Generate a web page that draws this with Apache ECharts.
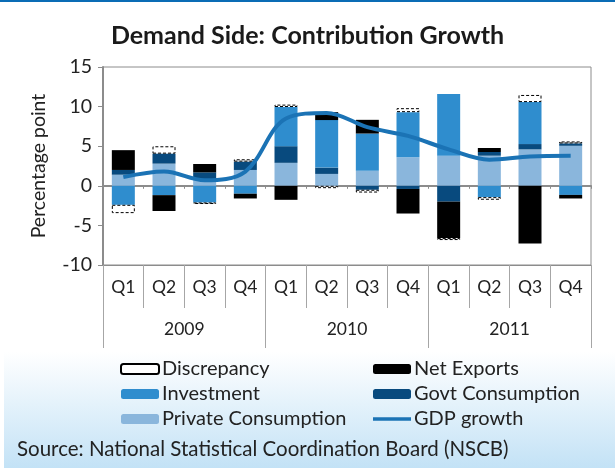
<!DOCTYPE html>
<html>
<head>
<meta charset="utf-8">
<script src="https://cdn.jsdelivr.net/npm/echarts@6/dist/echarts.min.js"></script>
<style>
  html, body { margin: 0; padding: 0; background: #fff; }
  #chart { width: 615px; height: 468px; }
</style>
</head>
<body>
<div id="chart"></div>
<script>
// quarters and years on the two level category axis
var quarters = ['Q1', 'Q2', 'Q3', 'Q4', 'Q1', 'Q2', 'Q3', 'Q4', 'Q1', 'Q2', 'Q3', 'Q4'];
var years = ['2009', '2010', '2011'];
var yTicks = [-10, -5, 0, 5, 10, 15];

// contributions, percentage points
var privateCons = [1.4, 2.8, 0.8, 2.0, 2.9, 1.5, 1.9, 3.6, 3.8, 3.8, 4.6, 5.05];
var govtCons = [0.6, 1.26, 0.9, 1.05, 2.1, 0.8, -0.5, -0.4, -2.0, 0.47, 0.67, 0.3];
var investment = [-2.4, -1.18, -2.1, -1.0, 4.95, 6.0, 4.7, 5.7, 7.8, -1.43, 5.3, -1.15];
var netExports = [2.5, -2.0, 1.05, -0.6, -1.77, 1.0, 1.73, -3.1, -4.6, 0.5, -7.3, -0.45];
var discrepancy = [-1.05, 0.93, -0.2, 0.3, 0.3, -0.3, -0.35, 0.5, -0.25, -0.33, 0.9, 0.25];
var gdpGrowth = [1.1, 1.8, 0.7, 1.8, 8.5, 9.2, 7.4, 6.3, 4.6, 3.3, 3.7, 3.8];

var chart = echarts.init(document.getElementById('chart'));
var font = 'Lato';
var axisGray = '#8c8c8c';
var lineIcon = 'path://M0,0 L0,0 M0,3.2 L38,3.2 L38,6.8 L0,6.8 Z M38,10 L38,10';

function barSeries(name, data, color, extra) {
  var s = {
    name: name,
    type: 'bar',
    stack: 'contrib',
    data: data,
    barWidth: 23,
    itemStyle: { color: color },
    emphasis: { disabled: true }
  };
  if (extra) s.itemStyle = extra;
  return s;
}

var legendText = { fontFamily: font, fontSize: 20, color: '#222', padding: [0, 0, 0, -2] };

var option = {
  backgroundColor: '#ffffff',
  animation: false,
  graphic: [
    {
      type: 'rect', z: -10,
      shape: { x: 4, y: 352, width: 611, height: 116 },
      style: {
        fill: {
          type: 'linear', x: 0, y: 0, x2: 0, y2: 1,
          colorStops: [{ offset: 0, color: '#ffffff' }, { offset: 1, color: '#c3e2f6' }]
        }
      }
    },
    { type: 'rect', z: 10, shape: { x: 0, y: 0, width: 615, height: 2 }, style: { fill: '#0a6cb5' } },
    {
      type: 'text', left: 17, top: 439,
      style: { text: 'Source: National Statistical Coordination Board (NSCB)', fontFamily: font, fontSize: 20.5, fill: '#222' }
    }
  ],
  title: {
    text: 'Demand Side: Contribution Growth',
    left: 'center',
    top: 18,
    textStyle: { fontFamily: font, fontSize: 25, fontWeight: 'bold', color: '#1a1a1a' }
  },
  legend: [
    {
      orient: 'vertical', left: 115, top: 354, itemWidth: 38, itemHeight: 10, itemGap: 5,
      textStyle: legendText,
      data: ['Discrepancy', 'Investment', 'Private Consumption']
    },
    {
      orient: 'vertical', left: 368, top: 354, itemWidth: 38, itemHeight: 10, itemGap: 5,
      textStyle: legendText,
      data: ['Net Exports', 'Govt Consumption', { name: 'GDP growth', icon: lineIcon }]
    }
  ],
  grid: {
    left: 103, right: 24, top: 67, bottom: 203,
    show: true, borderColor: axisGray, borderWidth: 1, backgroundColor: 'transparent'
  },
  xAxis: [
    {
      type: 'category', data: quarters, position: 'bottom',
      axisLine: { onZero: true, lineStyle: { color: axisGray, width: 2 } },
      axisTick: { show: true, interval: 0, length: 3, lineStyle: { color: axisGray } },
      axisLabel: { show: false }
    },
    {
      type: 'category', data: quarters, position: 'bottom',
      axisLine: { show: true, onZero: false, lineStyle: { color: axisGray, width: 1 } },
      axisTick: { show: true, interval: 0, length: 43, lineStyle: { color: '#a6a6a6' } },
      axisLabel: { interval: 0, margin: 13, fontFamily: font, fontSize: 17.5, color: '#222' }
    },
    {
      type: 'category', data: years, position: 'bottom', offset: 43,
      axisLine: { show: true, onZero: false, lineStyle: { color: '#ffffff', opacity: 0 } },
      axisTick: { show: true, interval: 0, length: 40, lineStyle: { color: '#a6a6a6' } },
      axisLabel: { interval: 0, margin: 12, fontFamily: font, fontSize: 17.5, color: '#222' }
    }
  ],
  yAxis: {
    type: 'value', min: yTicks[0], max: yTicks[yTicks.length - 1], interval: 5,
    name: 'Percentage point', nameLocation: 'middle', nameGap: 54, nameRotate: 90,
    nameTextStyle: { fontFamily: font, fontSize: 19.5, color: '#222' },
    axisLine: { show: true, lineStyle: { color: axisGray, width: 2 } },
    axisTick: { show: true, length: 5, lineStyle: { color: axisGray } },
    axisLabel: { fontFamily: font, fontSize: 19.5, color: '#222', margin: 11 },
    splitLine: { show: false }
  },
  series: [
    barSeries('Private Consumption', privateCons, '#8ab6dc'),
    barSeries('Govt Consumption', govtCons, '#084a7e'),
    barSeries('Investment', investment, '#2f8dce'),
    barSeries('Net Exports', netExports, '#000000'),
    barSeries('Discrepancy', discrepancy, null, {
      color: '#ffffff', borderColor: '#000000', borderWidth: 1, borderType: [3, 2]
    }),
    {
      name: 'GDP growth', type: 'line', data: gdpGrowth, smooth: 0.35,
      symbol: 'none', z: 5,
      lineStyle: { color: '#1b73b5', width: 4 },
      itemStyle: { color: '#1b73b5' },
      emphasis: { disabled: true }
    }
  ]
};
chart.setOption(option);
</script>
</body>
</html>
